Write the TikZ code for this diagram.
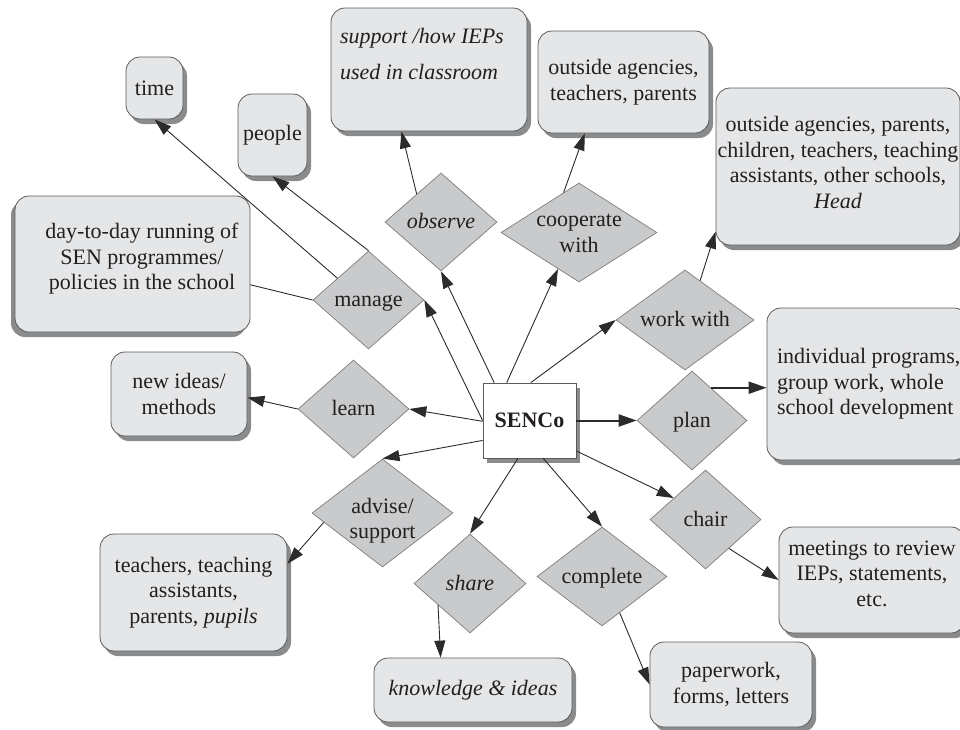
\documentclass[tikz,border=0pt]{standalone}
\usepackage{fontspec}
\setmainfont{Liberation Serif}
\usetikzlibrary{shapes.geometric,shadows,arrows.meta}
\definecolor{ink}{HTML}{231F20}
\definecolor{boxfill}{HTML}{E5E6E8}
\definecolor{boxline}{HTML}{5A5B5D}
\definecolor{shade}{HTML}{8A8B8D}
\definecolor{dfill}{HTML}{C9CACC}
\definecolor{dline}{HTML}{7D7E80}
\definecolor{arrowc}{HTML}{2B2B2B}
\tikzset{
  every node/.style={font=\fontsize{22}{25.5}\selectfont, text=ink},
  box/.style={draw=boxline, fill=boxfill, rounded corners=14pt, line width=0.8pt, inner sep=0pt,
    drop shadow={shadow xshift=#1, shadow yshift=-5pt, fill=shade, opacity=1}},
  box/.default=4pt,
  act/.style={diamond, draw=dline, fill=dfill, line width=0.7pt, inner sep=0pt},
  hub/.style={draw=boxline, fill=white, line width=0.8pt, minimum width=93pt, minimum height=75pt,
    font=\fontsize{22}{25.5}\selectfont\bfseries,
    drop shadow={shadow xshift=4pt, shadow yshift=-5pt, fill=shade, opacity=1}},
  arr/.style={draw=arrowc, line width=0.9pt, -{Triangle[length=17pt,width=11pt]}},
  bigarr/.style={draw=arrowc, line width=2pt, -{Triangle[length=18pt,width=12pt]}},
  link/.style={draw=arrowc, line width=0.9pt},
}
% box text of a given size, diamond text with no size
\newcommand{\bx}[3]{\parbox[c][#2pt][c]{#1pt}{\centering #3}}
\newcommand{\dl}[2][-7pt]{\raisebox{#1}[0pt][0pt]{\makebox[0pt]{\begin{tabular}{@{}c@{}}#2\end{tabular}}}}

\begin{document}
\begin{tikzpicture}[x=1pt, y=-1pt]
\useasboundingbox (0,0) rectangle (960,729);

% targets
\node[box] (time) at (154.5,88) {\bx{57}{62}{time}};
\node[box] (people) at (272.5,135) {\bx{69}{82}{people}};
\node[box] (support) at (429,69.5) {\parbox[c][123pt][t]{196pt}{\raggedright\vspace*{20pt}\hspace*{9pt}\textit{support /how IEPs}\\[10.5pt]\hspace*{9pt}\textit{used in classroom}}};
\node[box] (agency) at (623.5,82) {\bx{171}{102}{outside agencies,\\teachers, parents}};
\node[box] (partners) at (838,166.5) {\bx{244}{157}{outside agencies, parents,\\children, teachers, teaching\\assistants, other schools,\\\textit{Head}\vspace*{8pt}}};
\node[box=-4pt] (daytoday) at (132.5,264) {\parbox[c][136pt][c]{235pt}{\centering\leftskip=19pt plus 1fil day-to-day running of\\SEN programmes/\\policies in the school\vspace*{10pt}}};
\node[box] (newideas) at (179,394) {\bx{136}{84}{new ideas/\\methods}};
\node[box] (individual) at (867.5,384) {\parbox[c][152pt][c]{201pt}{\raggedright\leftskip=10pt individual programs,\\group work, whole\\school development}};
\node[box] (pupils) at (193.5,592.5) {\bx{187}{117}{teachers, teaching\\assistants,\\parents, \textit{pupils}}};
\node[box] (meetings) at (872,580) {\bx{186}{106}{meetings to review\\IEPs, statements,\\etc.\vspace*{13pt}}};
\node[box] (knowledge) at (473,690) {\bx{198}{64}{\textit{knowledge \& ideas}}};
\node[box] (paperwork) at (731,684.5) {\bx{162}{85}{paperwork,\\forms, letters}};

% actions
\node[act, minimum width=111pt, minimum height=98pt] (manage) at (368.5,300) {\dl{manage}};
\node[act, minimum width=112pt, minimum height=98pt] (observe) at (441,222) {\dl{\textit{observe}}};
\node[act, minimum width=156pt, minimum height=99pt] (coop) at (579,232.5) {\dl{cooperate\\with}};
\node[act, minimum width=138pt, minimum height=100pt] (workwith) at (685,320) {\dl{work with}};
\node[act, minimum width=111pt, minimum height=98pt] (learn) at (353.5,409) {\dl{learn}};
\node[act, minimum width=141pt, minimum height=108pt] (advise) at (382.5,513) {\dl[-13pt]{advise/\\support}};
\node[act, minimum width=112pt, minimum height=99pt] (share) at (470,583.5) {\dl{\textit{share}}};
\node[act, minimum width=110pt, minimum height=99pt] (plan) at (692,420.5) {\dl{plan}};
\node[act, minimum width=111pt, minimum height=99pt] (chair) at (705.5,519.5) {\dl{chair}};
\node[act, minimum width=130pt, minimum height=99pt] (complete) at (602,576.5) {\dl{complete}};

\node[hub] (senco) at (529.5,420.5) {SENCo};

% from the SENCo
\draw[arr] (senco.180) -- (manage.east);
\draw[arr] (senco.133) -- (observe.south);
\draw[arr] (senco.121) -- (coop.240);
\draw[arr] (senco.88) -- (workwith.west);
\draw[arr] (senco.181) -- (learn.east);
\draw[arr] (senco.203) -- (advise.north);
\draw[arr] (senco.253) -- (share.north);
\draw[arr] (senco.290) -- (complete.north);
\draw[arr] (senco.-33) -- (chair.146);
\draw[bigarr] (senco.east) -- (plan.west);

% from the actions
\draw[arr] (manage.145) -- (time.south);
\draw[arr] (manage.north) -- (people.south);
\draw[link] (manage.west) -- (daytoday.-10);
\draw[arr] (observe.131) -- (support.246);
\draw[arr] (coop.111) -- (agency.233);
\draw[arr] (workwith.69) -- (partners.208);
\draw[arr] (learn.west) -- (newideas.-3);
\draw[arr] (advise.189) -- (pupils.17);
\draw[arr] (share.214) -- (knowledge.135);
\draw[arr] (complete.-64) -- (paperwork.west);
\draw[arr] (chair.-51) -- (meetings.west);
\draw[bigarr] (plan.60) -- (plan.60 -| individual.west);
\end{tikzpicture}
\end{document}
